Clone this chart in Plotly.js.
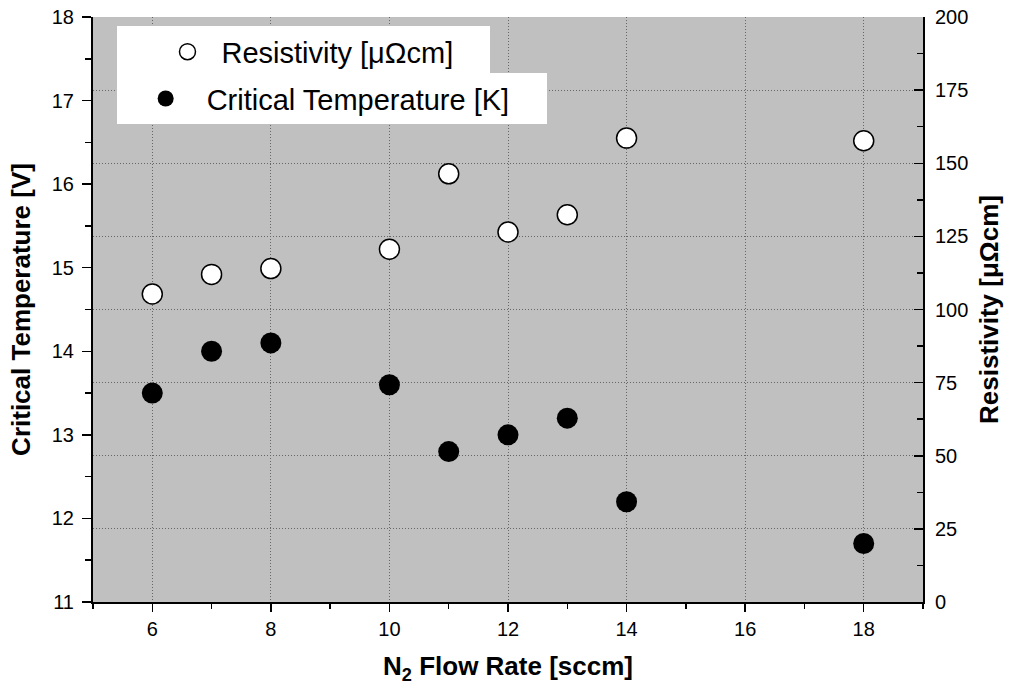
<!DOCTYPE html>
<html>
<head>
<meta charset="utf-8">
<script src="https://cdn.plot.ly/plotly-3.0.1.min.js"></script>
<style>html,body{margin:0;padding:0;background:#fff;}#chart{width:1009px;height:693px;}</style>
</head>
<body>
<div id="chart"></div>
<script>
// N2 flow rate [sccm]
const flowRate = [6, 7, 8, 10, 11, 12, 13, 14, 18];
// Resistivity [μΩcm] (right axis)
const resistivity = [105.3, 112.0, 114.0, 120.6, 146.4, 126.5, 132.4, 158.6, 157.7];
// Critical temperature [K] (left axis)
const critTemp = [13.5, 14.0, 14.1, 13.6, 12.8, 13.0, 13.2, 12.2, 11.7];

const FONT = 'Arial, "Liberation Sans", sans-serif';
const PAD = '\u00A0\u00A0\u00A0\u00A0';

const traces = [
  {
    x: flowRate, y: resistivity, xaxis: 'x', yaxis: 'y2',
    type: 'scatter', mode: 'markers', name: 'Resistivity [μΩcm]' + PAD,
    legend: 'legend',
    marker: {symbol: 'circle', size: 20, color: '#ffffff', line: {color: '#000000', width: 1.5}}
  },
  {
    x: flowRate, y: critTemp, xaxis: 'x', yaxis: 'y',
    type: 'scatter', mode: 'markers', name: 'Critical Temperature [K]' + PAD,
    legend: 'legend2',
    marker: {symbol: 'circle', size: 21, color: '#000000', line: {color: '#000000', width: 0}}
  }
];

const GRID = '#666666';

const layout = {
  width: 1009, height: 693,
  margin: {l: 93, r: 86, t: 17, b: 91},
  paper_bgcolor: '#ffffff',
  plot_bgcolor: '#c0c0c0',
  font: {family: FONT, size: 20, color: '#000000'},
  showlegend: true,
  xaxis: {
    range: [5, 19], dtick: 2, tick0: 6,
    ticks: 'outside', ticklen: 8, tickwidth: 1.5, tickcolor: '#000',
    minor: {dtick: 1, ticks: 'outside', ticklen: 5, tickwidth: 1.5, tickcolor: '#000', showgrid: false},
    showline: true, linecolor: '#000', linewidth: 2,
    showgrid: true, gridcolor: GRID, griddash: '1px,2px', gridwidth: 1,
    zeroline: false,
    tickfont: {size: 20},
    title: {text: '<b>N<sub>2</sub> Flow Rate [sccm]</b>', font: {size: 26}, standoff: 18}
  },
  xaxis2: {
    range: [5, 19], dtick: 2, tick0: 6, overlaying: 'x', side: 'top', anchor: 'y',
    ticks: 'inside', ticklen: 6, tickwidth: 1.5, tickcolor: '#000',
    minor: {dtick: 1, ticks: 'inside', ticklen: 4, tickwidth: 1.5, tickcolor: '#000'},
    showline: true, linecolor: '#000', linewidth: 2,
    showgrid: false, zeroline: false, showticklabels: false
  },
  yaxis: {
    range: [11, 18], dtick: 1,
    ticks: 'outside', ticklen: 9, tickwidth: 1.5, tickcolor: '#000',
    minor: {dtick: 0.5, ticks: 'outside', ticklen: 6, tickwidth: 1.5, tickcolor: '#000', showgrid: false},
    showline: true, linecolor: '#000', linewidth: 2,
    showgrid: false, zeroline: false,
    tickfont: {size: 20},
    ticklabelstandoff: 4,
    title: {text: '<b>Critical Temperature [V]</b>', font: {size: 26}, standoff: 14}
  },
  yaxis2: {
    range: [0, 200], dtick: 25, overlaying: 'y', side: 'right', anchor: 'x',
    ticks: 'inside', ticklen: 9, tickwidth: 1.5, tickcolor: '#000',
    minor: {dtick: 12.5, ticks: 'inside', ticklen: 6, tickwidth: 1.5, tickcolor: '#000', showgrid: false},
    showline: true, linecolor: '#000', linewidth: 2,
    showgrid: true, gridcolor: GRID, griddash: '1px,2px', gridwidth: 1,
    zeroline: false,
    tickfont: {size: 20},
    ticklabelstandoff: 6,
    title: {text: '<b>Resistivity [μΩcm]</b>', font: {size: 26}, standoff: 12}
  },
  legend: {
    x: 0.0295, y: 0.984, xanchor: 'left', yanchor: 'top',
    bgcolor: '#ffffff', borderwidth: 0,
    font: {size: 29, family: FONT},
    indentation: 36, itemwidth: 58
  },
  legend2: {
    x: 0.0285, y: 0.904, xanchor: 'left', yanchor: 'top',
    bgcolor: '#ffffff', borderwidth: 0,
    font: {size: 29, family: FONT},
    indentation: 8, itemwidth: 72
  }
};

Plotly.newPlot('chart', traces, layout, {displayModeBar: false, staticPlot: true});
</script>
</body>
</html>
